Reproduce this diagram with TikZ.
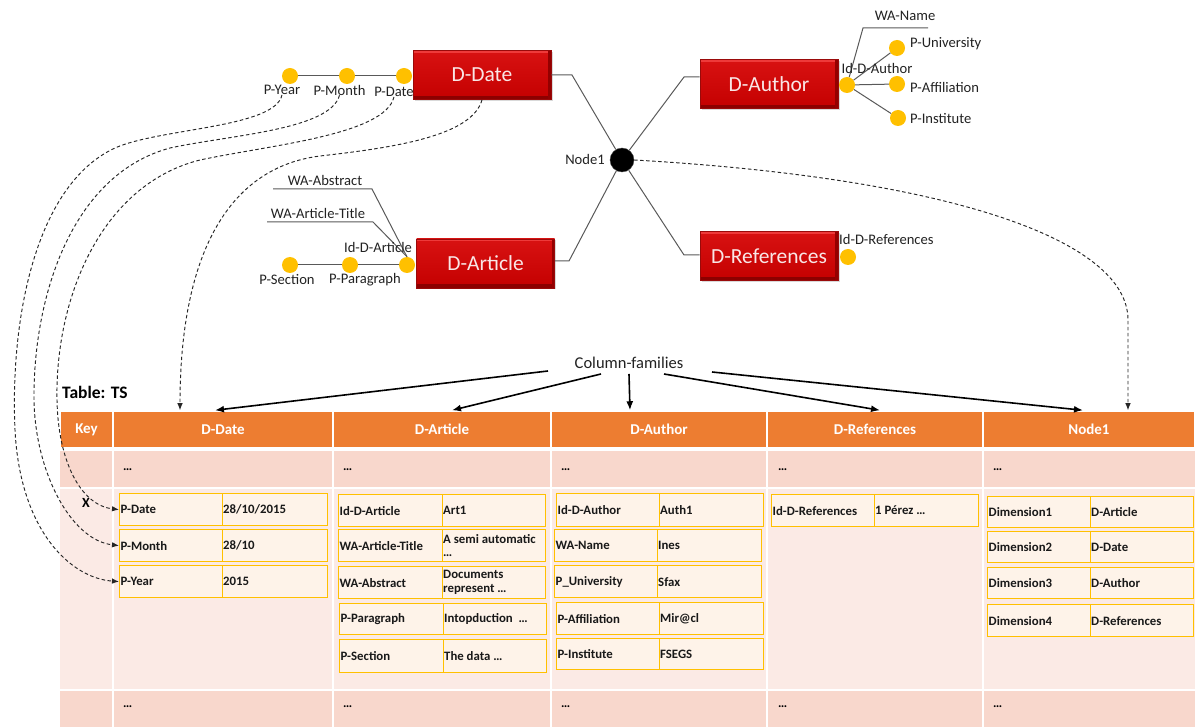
\documentclass[tikz,border=0pt]{standalone}
\usepackage{fontspec}
\setmainfont{Carlito}
\usetikzlibrary{arrows.meta,shadows,calc}

\definecolor{hdrorange}{HTML}{ED7D31}
\definecolor{rowdark}{HTML}{F8D7CC}
\definecolor{rowlight}{HTML}{FBEAE5}
\definecolor{cellfill}{HTML}{FEF3E9}
\definecolor{cellline}{HTML}{FFC000}
\definecolor{dotyellow}{HTML}{FFC000}
\definecolor{connline}{HTML}{595959}
\definecolor{labeltext}{HTML}{222222}
\definecolor{boxtop}{HTML}{D81212}
\definecolor{boxbot}{HTML}{C40000}
\definecolor{boxlight}{HTML}{EE3A3A}
\definecolor{boxdark}{HTML}{8C0000}
\definecolor{boxedge}{HTML}{9A0A0A}
\definecolor{boxtext}{HTML}{F9E6E6}

\tikzset{
  dimbox/.style={rectangle, minimum width=138pt, minimum height=49pt, inner sep=0,
    top color=boxtop, bottom color=boxbot,
    draw=boxedge, line width=0.8pt, text=boxtext,
    font=\fontsize{21.5pt}{24pt}\selectfont,
    path picture={
      \fill[boxlight] (path picture bounding box.north west) rectangle
        ([yshift=-2.5pt]path picture bounding box.north east);
      \fill[boxdark] ([yshift=3.5pt]path picture bounding box.south west) rectangle
        (path picture bounding box.south east);
      \fill[boxdark!85!boxbot] ([xshift=-3pt]path picture bounding box.north east) rectangle
        (path picture bounding box.south east);
    },
    drop shadow={opacity=0.3, shadow xshift=1.5pt, shadow yshift=-1.5pt}},
  attrdot/.style={circle, fill=dotyellow, minimum size=16pt, inner sep=0},
  lbl/.style={font=\fontsize{14.6pt}{16pt}\selectfont, text=labeltext, inner sep=0},
  conn/.style={draw=connline, line width=1pt},
  link/.style={draw=black!85, line width=0.95pt, dash pattern=on 3.5pt off 2.5pt,
    -{Latex[length=7pt,width=5.5pt]}},
  cfarrow/.style={line width=1.6pt, -{Latex[length=9pt,width=7pt]}},
  hdrcell/.style={rectangle, fill=hdrorange, draw=white, line width=1.5pt,
    minimum height=37pt, inner sep=0, text=white,
    font=\bfseries\fontsize{15pt}{17pt}\selectfont},
  cellbox/.style={rectangle, draw=cellline, fill=cellfill, line width=1.2pt, inner sep=0},
  celltxt/.style={anchor=west, inner sep=0, align=left, text=black!90,
    font=\bfseries\fontsize{12.8pt}{13.5pt}\selectfont},
  moredots/.style={anchor=west, inner sep=0, font=\bfseries\fontsize{12.8pt}{13.5pt}\selectfont}
}

% one key/value pair of a column family: name, left x, split x, right x, top y, bottom y, key, value
\newcommand{\kvcell}[8]{%
  \pgfmathsetmacro{\kvw}{#3-#2}%
  \pgfmathsetmacro{\kvv}{#4-#3}%
  \pgfmathsetmacro{\kvh}{#6-#5}%
  \node[cellbox, minimum width=\kvw pt, minimum height=\kvh pt, anchor=north west] (#1) at (#2,#5) {};
  \node[cellbox, minimum width=\kvv pt, minimum height=\kvh pt, anchor=north west] (#1v) at (#3,#5) {};
  \node[celltxt] (#1t) at ([xshift=1.5pt]#1.west) {#7};
  \node[celltxt] (#1vt) at ([xshift=1pt]#1v.west) {#8};
}

\begin{document}
\begin{tikzpicture}[x=1pt,y=-1pt]
\useasboundingbox (0,0) rectangle (1195,727);

% ---------- table TS ----------
\node[anchor=west, inner sep=0, font=\bfseries\fontsize{17.5pt}{20pt}\selectfont] (ttl) at (62,392) {Table: TS};

\fill[rowdark] (60,451) rectangle (1195,487);
\fill[rowlight] (60,489) rectangle (1195,689);
\fill[rowdark] (60,691) rectangle (1195,727);
\foreach \x in {113,333,551,767,983} \draw[white, line width=1.5pt] (\x,449) -- (\x,727);

\node[hdrcell, minimum width=53pt] (hkey) at (86.5,429.5) {Key};
\node[hdrcell, minimum width=220pt] (hdate) at (223,429.5) {D-Date};
\node[hdrcell, minimum width=218pt] (hart) at (442,429.5) {D-Article};
\node[hdrcell, minimum width=216pt] (haut) at (659,429.5) {D-Author};
\node[hdrcell, minimum width=216pt] (href) at (875,429.5) {D-References};
\node[hdrcell, minimum width=212pt] (hn1) at (1089,429.5) {Node1};

\node[moredots] (ra1) at (123,470) {\ldots};
\node[moredots] (ra2) at (343,470) {\ldots};
\node[moredots] (ra3) at (561,470) {\ldots};
\node[moredots] (ra4) at (778,470) {\ldots};
\node[moredots] (ra5) at (993,470) {\ldots};
\node[moredots] (rc1) at (123,707) {\ldots};
\node[moredots] (rc2) at (343,707) {\ldots};
\node[moredots] (rc3) at (561,707) {\ldots};
\node[moredots] (rc4) at (778,707) {\ldots};
\node[moredots] (rc5) at (993,707) {\ldots};

\node[inner sep=0, font=\bfseries\fontsize{14pt}{16pt}\selectfont] (xkey) at (86,503) {X};

% D-Date family
\kvcell{cdate}{119}{222}{327}{493}{525}{P-Date}{28/10/2015}
\kvcell{cmonth}{119}{222}{327}{529}{561}{P-Month}{28/10}
\kvcell{cyear}{119}{222}{327}{565}{597}{P-Year}{2015}
% D-Article family
\kvcell{cida}{338}{442}{545}{494}{526}{Id-D-Article}{Art1}
\kvcell{ctitle}{338}{442}{545}{529}{561}{WA-Article-Title}{A semi automatic\\\ldots}
\kvcell{cabs}{338}{442}{545}{566}{598}{WA-Abstract}{Documents\\represent \ldots}
\kvcell{cpar}{339}{443}{546}{603}{634}{P-Paragraph}{Intopduction\ \ \ldots}
\kvcell{csec}{339}{443}{546}{639}{672}{P-Section}{The data \ldots}
% D-Author family
\kvcell{cidau}{556}{659}{763}{493}{526}{Id-D-Author}{Auth1}
\kvcell{cname}{554}{657}{761}{529}{561}{WA-Name}{Ines}
\kvcell{cuni}{554}{657}{761}{565}{597}{P\_University}{Sfax}
\kvcell{caff}{556}{659}{763}{602}{634}{P-Affiliation}{Mir@cl}
\kvcell{cinst}{556}{659}{763}{638}{669}{P-Institute}{FSEGS}
% D-References family
\kvcell{cref}{771}{874}{978}{494}{526}{Id-D-References}{1 Pérez \ldots}
% Node1 family
\kvcell{cdim1}{987}{1090}{1193}{496}{527}{Dimension1}{D-Article}
\kvcell{cdim2}{987}{1090}{1193}{531}{562}{Dimension2}{D-Date}
\kvcell{cdim3}{987}{1090}{1193}{567}{598}{Dimension3}{D-Author}
\kvcell{cdim4}{987}{1090}{1193}{604}{636}{Dimension4}{D-References}

% ---------- star schema ----------
\node[circle, fill=black, draw=black!70, minimum size=24pt, inner sep=0] (node1) at (622,160) {};
\node[lbl] (lnode1) at (585,159) {Node1};

\node[dimbox] (ddate) at (482,75) {D-Date};
\node[dimbox] (dauthor) at (769,84) {D-Author};
\node[dimbox] (darticle) at (485.5,263.5) {D-Article};
\node[dimbox] (dref) at (769,256) {D-References};

\coordinate (kdate) at (572,75);
\coordinate (kauthor) at (684,77);
\coordinate (karticle) at (569,261);
\coordinate (kref) at (684,255);
\draw[conn] (ddate.east) -- (kdate) -- (node1);
\draw[conn] (node1) -- (kauthor) -- (kauthor -| dauthor.west);
\draw[conn] (node1) -- (karticle) -- (karticle -| darticle.east);
\draw[conn] (node1) -- (kref) -- (kref -| dref.west);

% D-Date attributes
\node[attrdot] (pyear) at (290,76) {};
\node[attrdot] (pmonth) at (347,76) {};
\node[attrdot] (pdate) at (404,76) {};
\draw[conn] (pyear) -- (pmonth) -- (pdate);
\node[lbl] (lpyear) at (282,90) {P-Year};
\node[lbl] (lpmonth) at (339.5,90) {P-Month};
\node[lbl] (lpdate) at (394,92) {P-Date};

% D-Author attributes
\node[attrdot] (idau) at (847,85) {};
\node[attrdot] (puni) at (897,48) {};
\node[attrdot] (paff) at (897,84) {};
\node[attrdot] (pinst) at (898,118) {};
\coordinate (wnameA) at (863,28);
\coordinate (wnameB) at (928,28);
\draw[conn] (idau) -- (wnameA) -- (wnameB);
\draw[conn] (idau) -- (puni);
\draw[conn] (idau) -- (paff);
\draw[conn] (idau) -- (pinst);
\node[lbl] (lidau) at (877,68) {Id-D-Author};
\node[lbl] (lwname) at (905,16) {WA-Name};
\node[lbl, anchor=west] (lpuni) at (910,44) {P-University};
\node[lbl, anchor=west] (lpaff) at (910,87) {P-Affiliation};
\node[lbl, anchor=west] (lpinst) at (910,119) {P-Institute};

% D-Article attributes
\node[attrdot] (psec) at (290,265) {};
\node[attrdot] (ppar) at (350,265) {};
\node[attrdot] (idart) at (407,265) {};
\draw[conn] (psec) -- (ppar) -- (idart);
\coordinate (wabsA) at (273,189);
\coordinate (wabsB) at (372,189);
\coordinate (wtitA) at (267,222);
\coordinate (wtitB) at (373,222);
\draw[conn] (wabsA) -- (wabsB) -- (idart.north);
\draw[conn] (wtitA) -- (wtitB) -- (idart.north);
\node[lbl] (lwabs) at (325,180) {WA-Abstract};
\node[lbl] (lwtit) at (318,213) {WA-Article-Title};
\node[lbl] (lidart) at (378,247) {Id-D-Article};
\node[lbl] (lpsec) at (287,280) {P-Section};
\node[lbl] (lppar) at (365,280) {P-Paragraph};

% D-References attribute
\node[attrdot] (idref) at (848,257) {};
\node[lbl, anchor=west] (lidref) at (839,239) {Id-D-References};

% ---------- column families ----------
\node[lbl, font=\fontsize{16.5pt}{18pt}\selectfont] (cf) at (629,363) {Column-families};
\draw[cfarrow] ($(cf.south)+(-81,2)$) -- ([xshift=-8pt]hdate.north);
\draw[cfarrow] ($(cf.south)+(-28,5)$) -- ([xshift=10pt]hart.north);
\draw[cfarrow] ($(cf.south)+(0,5)$) -- ([xshift=-29pt]haut.north);
\draw[cfarrow] ($(cf.south)+(35,5)$) -- ([xshift=5pt]href.north);
\draw[cfarrow] ($(cf.south)+(83,3)$) -- ([xshift=-6pt]hn1.north);

% ---------- mappings to the table ----------
\draw[link] (lpyear.south) .. controls (275,128) and (160,128) .. (115,148)
  .. controls (35,185) and (10,320) .. (15,430)
  .. controls (20,530) and (70,578) .. (cyear.west);
\draw[link] (lpmonth.south) .. controls (330,130) and (230,135) .. (170,148)
  .. controls (70,175) and (33,300) .. (34,400)
  .. controls (35,470) and (70,540) .. (cmonth.west);
\draw[link] (lpdate.south) .. controls (385,135) and (270,145) .. (200,160)
  .. controls (100,185) and (55,300) .. (57,400)
  .. controls (58,460) and (80,505) .. (cdate.west);
\draw[link] (ddate.south) .. controls (472,135) and (400,147) .. (320,156)
  .. controls (225,168) and (180,260) .. ([xshift=-43pt]hdate.north);
\draw[link] (node1.east) .. controls (950,178) and (1128,240) .. (1128,320)
  -- ([xshift=39pt]hn1.north);

\end{tikzpicture}
\end{document}
